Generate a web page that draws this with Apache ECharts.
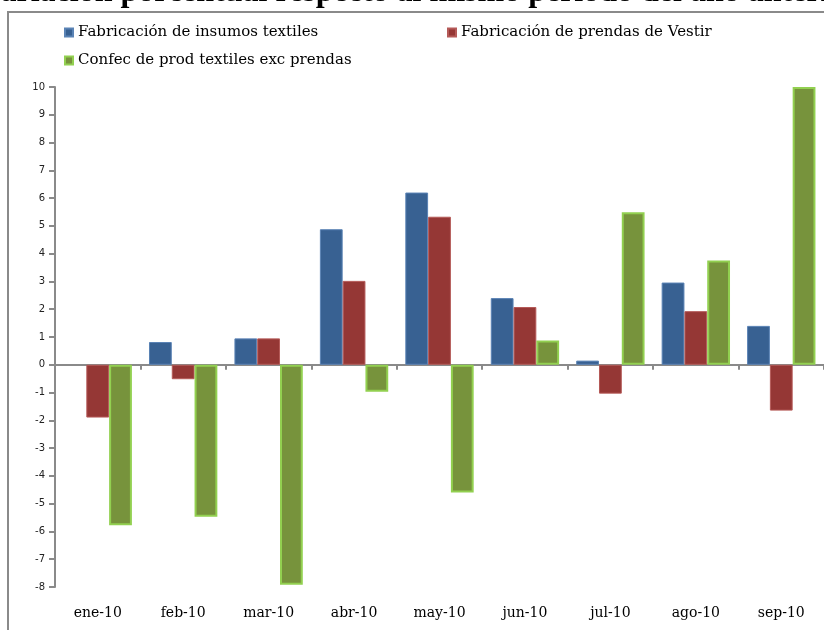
<!DOCTYPE html>
<html>
<head>
<meta charset="utf-8">
<script src="https://cdn.jsdelivr.net/npm/echarts@6/dist/echarts.min.js"></script>
<style>html,body{margin:0;padding:0;background:#fff}#c{width:824px;height:630px}</style>
</head>
<body>
<div id="c"></div>
<script>
var titleText = 'Variación porcentual respecto al mismo período del año anterior';
var categories = ['ene-10','feb-10','mar-10','abr-10','may-10','jun-10','jul-10','ago-10','sep-10'];
var seriesNames = ['Fabricación de insumos textiles','Fabricación de prendas de Vestir','Confec de prod textiles exc prendas'];
var insumos = [null, 0.82, 0.95, 4.88, 6.2, 2.4, 0.15, 2.96, 1.4];
var prendas = [-1.9, -0.52, 0.95, 3.02, 5.33, 2.08, -1.04, 1.93, -1.65];
var confec = [-5.78, -5.47, -7.92, -0.97, -4.6, 0.87, 5.49, 3.75, 10];
var yTicks = {min: -8, max: 10, interval: 1};

var chart = echarts.init(document.getElementById('c'));
var serif = '"DejaVu Serif", serif';
var legendText = {fontFamily: serif, fontSize: 15, color: '#000'};
chart.setOption({
  animation: false,
  graphic: [
    {type: 'text', x: 420, y: 9, z: 10,
     style: {text: titleText, font: 'bold 32px "Liberation Serif", serif', fill: '#000', textAlign: 'center', textVerticalAlign: 'bottom'}},
    {type: 'rect', shape: {x: 8, y: 12, width: 840, height: 640}, z: 0,
     style: {fill: 'none', stroke: '#8a8a8a', lineWidth: 2}}
  ],
  legend: [
    {left: 59, top: 20, itemWidth: 8, itemHeight: 8, itemGap: 4, icon: 'rect', textStyle: legendText, data: [seriesNames[0]]},
    {left: 442, top: 20, itemWidth: 8, itemHeight: 8, itemGap: 4, icon: 'rect', textStyle: legendText, data: [seriesNames[1]]},
    {left: 59, top: 48, itemWidth: 8, itemHeight: 8, itemGap: 4, icon: 'rect', textStyle: legendText, data: [seriesNames[2]]}
  ],
  grid: {left: 55, right: -5, top: 87, bottom: 43, containLabel: false},
  xAxis: [
    {type: 'category', data: categories, position: 'bottom',
     axisLine: {onZero: true, lineStyle: {color: '#8a8a8a', width: 2}},
     axisTick: {show: true, length: 5, lineStyle: {color: '#8a8a8a', width: 2}},
     axisLabel: {show: false}},
    {type: 'category', data: categories, position: 'bottom',
     axisLine: {show: false, onZero: false}, axisTick: {show: false},
     axisLabel: {show: true, margin: 19, fontFamily: serif, fontSize: 14, color: '#000'}}
  ],
  yAxis: {type: 'value', min: yTicks.min, max: yTicks.max, interval: yTicks.interval,
    splitLine: {show: false},
    axisLine: {show: true, lineStyle: {color: '#8a8a8a', width: 2}},
    axisTick: {show: true, length: 6, lineStyle: {color: '#8a8a8a', width: 2}},
    axisLabel: {margin: 10, fontFamily: '"DejaVu Sans", sans-serif', fontSize: 10, color: '#222'}},
  series: [
    {name: seriesNames[0], type: 'bar', data: insumos, barGap: '0%', barCategoryGap: '20%',
     itemStyle: {color: '#386192', borderColor: '#5a83b5', borderWidth: 1}},
    {name: seriesNames[1], type: 'bar', data: prendas, barGap: '0%', barCategoryGap: '20%',
     itemStyle: {color: '#953735', borderColor: '#b55a58', borderWidth: 1}},
    {name: seriesNames[2], type: 'bar', data: confec, barGap: '0%', barCategoryGap: '20%',
     itemStyle: {color: '#77933c', borderColor: '#92d050', borderWidth: 2}}
  ]
});
</script>
</body>
</html>
